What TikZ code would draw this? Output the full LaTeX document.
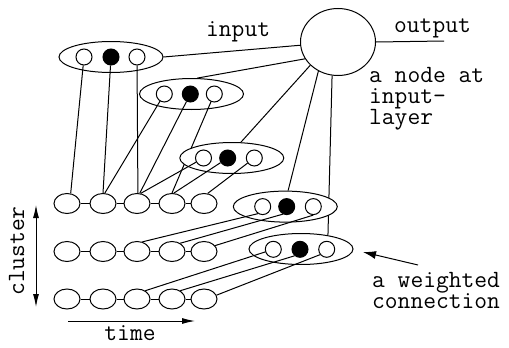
\documentclass[tikz,border=0pt]{standalone}
\usepackage{fontspec}
\usetikzlibrary{shapes.geometric,arrows.meta}
\pgfdeclarelayer{bline}
\pgfdeclarelayer{ga}\pgfdeclarelayer{gal}
\pgfdeclarelayer{gb}\pgfdeclarelayer{gbl}
\pgfdeclarelayer{gc}\pgfdeclarelayer{gcl}
\pgfdeclarelayer{gd}\pgfdeclarelayer{gdl}
\pgfdeclarelayer{ge}\pgfdeclarelayer{gel}
\pgfsetlayers{bline,ga,gal,gb,gbl,gc,gcl,gd,gdl,ge,gel,main}
\begin{document}
\begin{tikzpicture}[x=1pt,y=-1pt,line width=1pt,
  lk/.style={draw,line width=1pt},
  grp/.style={draw,line width=1pt,ellipse,fill=white,minimum width=104pt,minimum height=31pt,inner sep=0pt},
  unit/.style={draw,line width=1pt,circle,fill=white,minimum size=16pt,inner sep=0pt},
  win/.style={draw,line width=1pt,circle,fill=black,minimum size=16pt,inner sep=0pt},
  cell/.style={draw,line width=1pt,ellipse,fill=white,minimum width=26pt,minimum height=20pt,inner sep=0pt},
  big/.style={draw,line width=1pt,ellipse,fill=white,minimum width=75pt,minimum height=67pt,inner sep=0pt},
  lbl/.style={font=\ttfamily\fontsize{24.8}{21}\selectfont,inner sep=0pt},
  tip/.style={-{Latex[length=13pt,width=6pt]}},
  bitip/.style={{Latex[length=13pt,width=6pt]}-{Latex[length=13pt,width=6pt]}},
  wtip/.style={-{Latex[length=13pt,width=8pt]}}]
\useasboundingbox (0,0) rectangle (509,348);

% grid of cells
\foreach \r/\y in {1/203.5,2/251.5,3/299}{
  \foreach \c/\x in {1/67,2/103,3/137,4/172,5/204}{
    \node[cell] (G\r\c) at (\x,\y) {};
  }
  \draw[lk] (G\r1)--(G\r2) (G\r2)--(G\r3) (G\r3)--(G\r4) (G\r4)--(G\r5);
}

% big node
\node[big] (B) at (338,42) {};
\coordinate (oend) at (444,41);
\draw[lk] (B.east) -- (oend);

% groups
\begin{pgfonlayer}{ga}
\node[grp] (E1) at (111,57) {};
\node[unit] (E1c1) at (84,57) {};
\node[win] (E1c2) at (111,57) {};
\node[unit] (E1c3) at (137,57) {};
\end{pgfonlayer}
\begin{pgfonlayer}{gb}
\node[grp] (E2) at (191.5,94) {};
\node[unit] (E2c1) at (164.3,94) {};
\node[win] (E2c2) at (190.3,94) {};
\node[unit] (E2c3) at (214.3,94) {};
\end{pgfonlayer}
\begin{pgfonlayer}{gc}
\node[grp] (E3) at (231.8,158) {};
\node[unit] (E3c1) at (203.5,158) {};
\node[win] (E3c2) at (227.7,158) {};
\node[unit] (E3c3) at (254.3,158) {};
\end{pgfonlayer}
\begin{pgfonlayer}{gd}
\node[grp] (E4) at (285.3,206.6) {};
\node[unit] (E4c1) at (262.7,206.6) {};
\node[win] (E4c2) at (286.7,206.6) {};
\node[unit] (E4c3) at (313.3,206.6) {};
\end{pgfonlayer}
\begin{pgfonlayer}{ge}
\node[grp] (E5) at (301,249) {};
\node[unit] (E5c1) at (273.3,249.3) {};
\node[win] (E5c2) at (300,249.3) {};
\node[unit] (E5c3) at (326.7,249.3) {};
\end{pgfonlayer}

% lines from the big node
\begin{pgfonlayer}{bline}
\draw[lk] (E1.east) -- (B);
\draw[lk] (E2.70) -- (B.207);
\draw[lk] (E3.60) -- (B.220);
\draw[lk] (E4.80) -- (B.236);
\draw[lk] (E5.27) -- (B.260);
\end{pgfonlayer}

% weighted connections
\begin{pgfonlayer}{gal}
\draw[lk] (E1c1) -- (G11.70);
\draw[lk] (E1c2) -- (G12.north);
\draw[lk] (E1c3) -- (G13.85);
\end{pgfonlayer}
\begin{pgfonlayer}{gbl}
\draw[lk] (E2c1) -- (G12.80);
\draw[lk] (E2c2) -- (G13.75);
\draw[lk] (E2c3) -- (G14.north);
\end{pgfonlayer}
\begin{pgfonlayer}{gcl}
\draw[lk] (E3c1) -- (G13.70);
\draw[lk] (E3c2) -- (G14.80);
\draw[lk] (E3c3) -- (G15.70);
\end{pgfonlayer}
\begin{pgfonlayer}{gdl}
\draw[lk] (E4c1.236) -- (G23.61);
\draw[lk] (E4c2.243) -- (G24.45);
\draw[lk] (E4c3.south) -- (G25.28);
\end{pgfonlayer}
\begin{pgfonlayer}{gel}
\draw[lk] (E5c1.198) -- (G33.45);
\draw[lk] (E5c2.230) -- (G34.45);
\draw[lk] (E5c3.219) -- (G35.17);
\end{pgfonlayer}

% axes
\coordinate (ctop) at (36,205);
\coordinate (cbot) at (36,307);
\draw[lk,bitip] (ctop) -- (cbot);
\coordinate (tl) at (68,321);
\coordinate (tr) at (195,321);
\draw[lk,tip] (tl) -- (tr);

% pointer
\coordinate (wtail) at (418,265);
\coordinate (whead) at (363,252);
\draw[lk,wtip] (wtail) -- (whead);

% labels
\node[lbl,anchor=base west] (tinput) at (206,36) {input};
\node[lbl,anchor=base west] (toutput) at (394,32) {output};
\node[lbl,anchor=base west,align=left] (tnode) at (369,124) {a node at\\input-\\layer};
\node[lbl,anchor=base west,align=left] (tweight) at (372,308) {a weighted\\connection};
\node[lbl,anchor=base] (ttime) at (130,340) {time};
\node[lbl,anchor=base,rotate=90] (tcluster) at (24,251) {cluster};
\end{tikzpicture}
\end{document}
